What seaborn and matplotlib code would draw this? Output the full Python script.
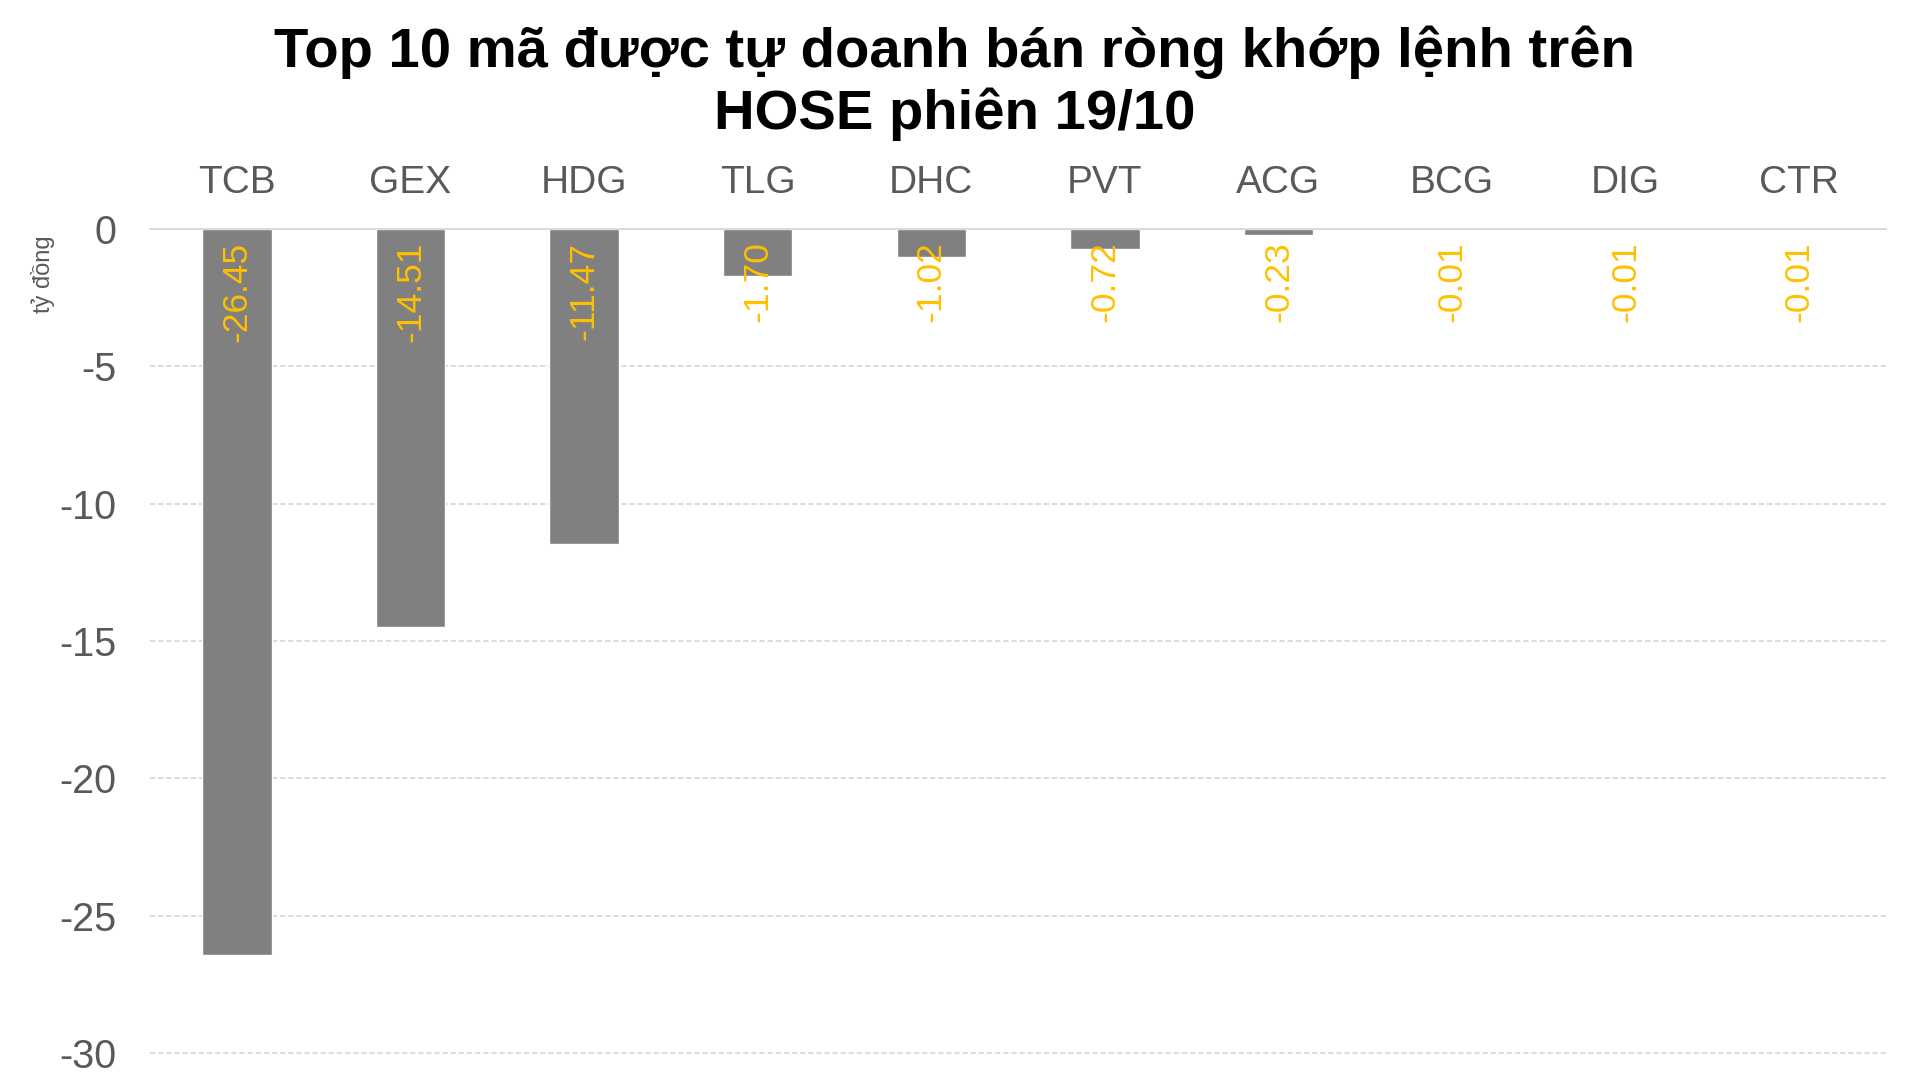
import matplotlib
matplotlib.use("Agg")
import matplotlib.pyplot as plt
import seaborn as sns

# Dữ liệu
ma_ck = ["TCB", "GEX", "HDG", "TLG", "DHC", "PVT", "ACG", "BCG", "DIG", "CTR"]
gia_tri = [-26.45, -14.51, -11.47, -1.70, -1.02, -0.72, -0.23, -0.01, -0.01, -0.01]
y_ticks = [0, -5, -10, -15, -20, -25, -30]

sns.set_theme(style="white")
plt.rcParams["font.family"] = ["Liberation Sans", "DejaVu Sans"]

fig = plt.figure(figsize=(19.09, 10.86), dpi=100)
ax = fig.add_axes([0.0786, 0.0290, 0.9094, 0.7601])

sns.barplot(x=ma_ck, y=gia_tri, color="#808080", saturation=1, width=0.40, ax=ax)

ax.set_ylim(-30.06, 0)
ax.set_xlim(-0.5, len(ma_ck) - 0.5)
ax.set_yticks(y_ticks)
ax.set_yticklabels([str(t) for t in y_ticks])

# trục x ở phía trên
ax.xaxis.tick_top()
ax.tick_params(axis="x", top=False, bottom=False, labeltop=True, labelbottom=False,
               labelsize=28, labelcolor="#595959", pad=14)
ax.tick_params(axis="y", left=False, labelsize=28.5, labelcolor="#595959", pad=18)
ax.set_xlabel("")
ax.set_ylabel("")

for s in ["left", "right", "bottom"]:
    ax.spines[s].set_visible(False)
ax.spines["top"].set_color("#D9D9D9")
ax.spines["top"].set_linewidth(1.4)
ax.spines["top"].set_zorder(3)

ax.yaxis.grid(True, color="#D9D9D9", linestyle=(0, (3, 1.5)), linewidth=1.3)
ax.set_axisbelow(True)

# nhãn giá trị
for i, v in enumerate(gia_tri):
    ax.annotate(f"{v:.2f}", xy=(i, 0), xytext=(0, -9), textcoords="offset points",
                rotation=90, ha="center", va="top", fontsize=25.5, color="#FFC000")

fig.text(0.5, 0.9765, "Top 10 mã được tự doanh bán ròng khớp lệnh trên\nHOSE phiên 19/10",
         ha="center", va="top", fontsize=40.5, fontweight="bold", color="black",
         linespacing=1.2)
fig.text(0.0225, 0.7477, "tỷ đồng", rotation=90, ha="center", va="center",
         fontsize=17, color="#595959")

fig.savefig("out.png", dpi=100)
